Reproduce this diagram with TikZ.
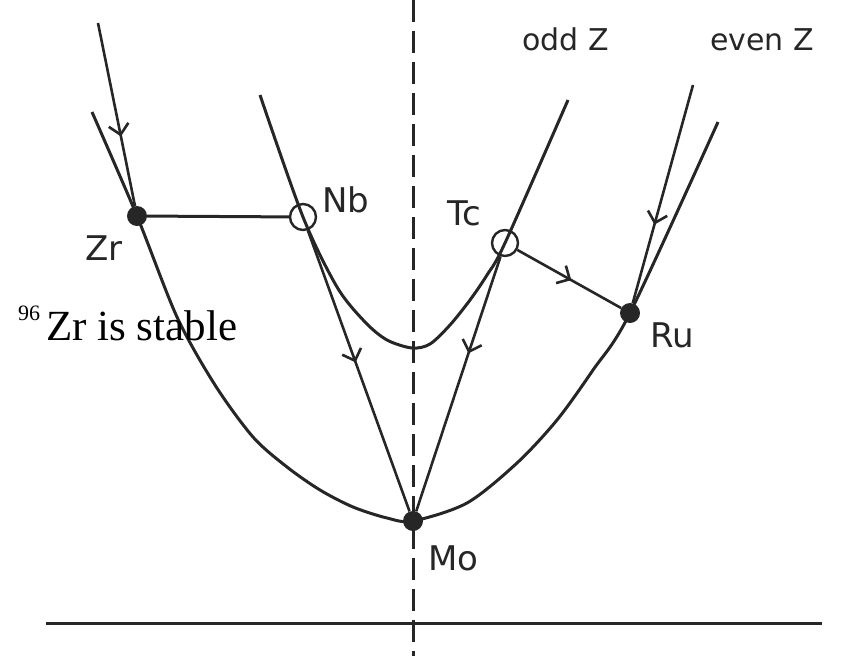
\documentclass[tikz,border=0pt]{standalone}
\usepackage{fontspec}
\setmainfont{Liberation Serif}
\newfontfamily\handfont{DejaVu Sans}
\usepackage{tikz}
\usetikzlibrary{arrows.meta, decorations.markings}

\tikzset{
  curve/.style={line width=3pt, black!85},
  dot/.style={circle, fill=black!85, inner sep=0pt, minimum size=20pt},
  hole/.style={circle, draw=black!85, line width=2.4pt, inner sep=0pt, minimum size=26pt},
  flow/.style={line width=2.6pt, black!85, postaction={decorate},
    decoration={markings, mark=at position #1 with {\arrow{Straight Barb[length=10pt,width=20pt]}}}},
  elem/.style={font=\handfont\fontsize{34}{34}\selectfont, text=black!85, inner sep=0pt, anchor=base west},
}

\begin{document}
\begin{tikzpicture}[x=1pt, y=-1pt]
        \useasboundingbox (0,0) rectangle (846,656);

        % Axis and symmetry line
        \draw[line width=3pt, black!85, dash pattern=on 22pt off 9pt] (413,0) -- (413,656);
        \draw[curve] (46,623) -- (822,623);

        % Nuclei (stable = filled, unstable = open)
        \node[dot] (zr) at (137,216) {};
        \node[hole] (nb) at (303,217) {};
        \node[hole] (tc) at (505,243) {};
        \node[dot] (ru) at (630,313) {};
        \node[dot] (mo) at (413,521) {};

        % Free ends of the incoming decays
        \coordinate (zrin) at (98,23);
        \coordinate (ruin) at (693,85);

        % Mass parabolas
        \draw[curve] plot[smooth] coordinates {(92,112) (zr.center) (177,317) (215,385) (253,437) (287,467) (320,490) (353,507) (387,518) (mo.center) (467,503) (517,463) (557,420) (593,370) (ru.center) (718,122)};
        \draw[curve] plot[smooth] coordinates {(260,95) (nb.center) (337,287) (365,322) (387,340) (412,348) (430,344) (450,325) (470,300) (487,275) (tc.center) (568,100)};

        % Decays
        \draw[flow=0.62] (zrin) -- (zr);
        \draw[flow=0.64] (ruin) -- (ru);
        \draw[curve] (zr) -- (nb);
        \draw[flow=0.47] (nb) -- (mo);
        \draw[flow=0.38] (tc) -- (mo);
        \draw[flow=0.52] (tc) -- (ru);

        % Labels
        \node[elem] (zrlabel) at (85,260) {Zr};
        \node[elem] (nblabel) at (322,212) {Nb};
        \node[elem] (tclabel) at (447,225) {Tc};
        \node[elem] (rulabel) at (650,347) {Ru};
        \node[elem] (molabel) at (428,570) {Mo};
        \node[elem, font=\handfont\fontsize{30}{30}\selectfont] (oddlabel) at (522,50) {odd Z};
        \node[elem, font=\handfont\fontsize{30}{30}\selectfont] (evenlabel) at (710,50) {even Z};

        \node[anchor=base west, inner sep=0pt, font=\fontsize{43}{43}\selectfont] (stable) at (18,340) {\raisebox{20pt}{\fontsize{22}{22}\selectfont 96}\hspace{6pt}Zr is stable};
    \end{tikzpicture}
\end{document}
